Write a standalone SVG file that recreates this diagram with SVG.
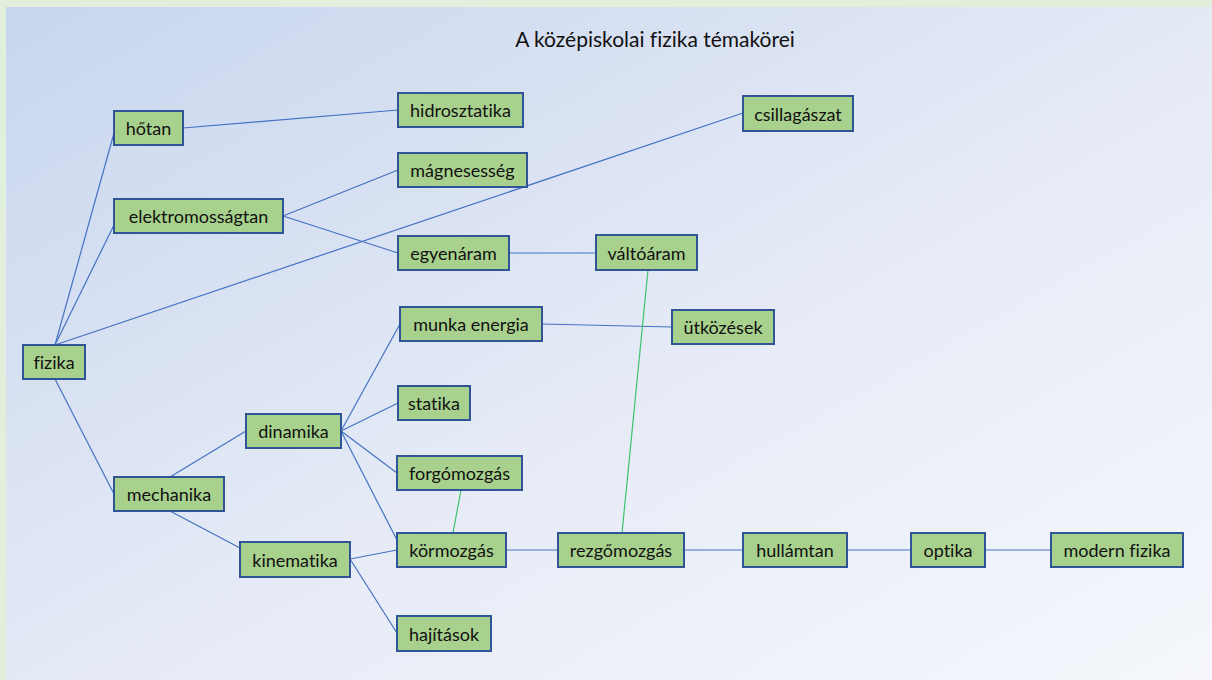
<svg xmlns="http://www.w3.org/2000/svg" width="1212" height="680" viewBox="0 0 1212 680">
<defs>
<linearGradient id="bg" x1="0" y1="0" x2="1" y2="1">
<stop offset="0" stop-color="#c8d6ee"/>
<stop offset="0.55" stop-color="#e6ebf6"/>
<stop offset="1" stop-color="#f5f7fc"/>
</linearGradient>
<style>
.n rect{fill:#a9d18e;stroke:#2f5597;stroke-width:2}
.n text{font-family:Lato,"Liberation Sans",sans-serif;font-size:18px;fill:#111;text-anchor:middle;dominant-baseline:central;font-variant-ligatures:none}
.c line{stroke:#4472c4;stroke-width:1.2}
.c line.g{stroke:#3cc36e}
.t{font-family:Lato,"Liberation Sans",sans-serif;font-size:21px;fill:#111;text-anchor:middle;font-variant-ligatures:none}
</style>
</defs>
<rect x="0" y="0" width="1212" height="680" fill="#e2efda"/>
<rect x="6" y="7" width="1206" height="673" fill="url(#bg)"/>
<text class="t" x="655" y="47">A középiskolai fizika témakörei</text>
<g class="c" id="connectors">
<line x1="55" y1="345" x2="114" y2="133"/>
<line x1="55" y1="345" x2="114" y2="225"/>
<line x1="55" y1="345" x2="743" y2="113"/>
<line x1="55" y1="379" x2="114" y2="494"/>
<line x1="183" y1="128" x2="398" y2="110"/>
<line x1="283" y1="216" x2="398" y2="170"/>
<line x1="283" y1="216" x2="398" y2="253"/>
<line x1="509" y1="253" x2="596" y2="253"/>
<line x1="170" y1="477" x2="246" y2="431"/>
<line x1="170" y1="511" x2="240" y2="548"/>
<line x1="341" y1="431" x2="400" y2="324"/>
<line x1="341" y1="431" x2="398" y2="403"/>
<line x1="341" y1="431" x2="397" y2="473"/>
<line x1="341" y1="431" x2="397" y2="540"/>
<line x1="350" y1="559" x2="397" y2="550"/>
<line x1="350" y1="559" x2="397" y2="633"/>
<line x1="542" y1="324" x2="672" y2="327"/>
<line x1="506" y1="550" x2="558" y2="550"/>
<line x1="684" y1="550" x2="743" y2="550"/>
<line x1="847" y1="550" x2="911" y2="550"/>
<line x1="985" y1="550" x2="1051" y2="550"/>
<line class="g" x1="461" y1="490" x2="453" y2="533"/>
<line class="g" x1="648" y1="270" x2="622" y2="533"/>
</g>
<g class="n" id="hotan"><rect x="114" y="111" width="69" height="34"/><text x="148.5" y="128">hőtan</text></g>
<g class="n" id="hidrosztatika"><rect x="398" y="93" width="125" height="34"/><text x="460.5" y="110">hidrosztatika</text></g>
<g class="n" id="csillagaszat"><rect x="743" y="96" width="110" height="35"/><text x="798" y="113.5">csillagászat</text></g>
<g class="n" id="magnesesseg"><rect x="398" y="153" width="129" height="34"/><text x="462.5" y="170">mágnesesség</text></g>
<g class="n" id="elektromossagtan"><rect x="114" y="199" width="169" height="34"/><text x="198.5" y="216">elektromosságtan</text></g>
<g class="n" id="egyenaram"><rect x="398" y="236" width="111" height="34"/><text x="453.5" y="253">egyenáram</text></g>
<g class="n" id="valtoaram"><rect x="596" y="235" width="101" height="35"/><text x="646.5" y="252.5">váltóáram</text></g>
<g class="n" id="munkaenergia"><rect x="400" y="307" width="142" height="34"/><text x="471" y="324">munka energia</text></g>
<g class="n" id="utkozesek"><rect x="672" y="310" width="102" height="34"/><text x="723" y="327">ütközések</text></g>
<g class="n" id="fizika"><rect x="23" y="345" width="62" height="34"/><text x="54" y="362">fizika</text></g>
<g class="n" id="statika"><rect x="398" y="386" width="72" height="34"/><text x="434" y="403">statika</text></g>
<g class="n" id="dinamika"><rect x="246" y="414" width="95" height="34"/><text x="293.5" y="431">dinamika</text></g>
<g class="n" id="forgomozgas"><rect x="397" y="456" width="125" height="34"/><text x="459.5" y="473">forgómozgás</text></g>
<g class="n" id="mechanika"><rect x="114" y="477" width="110" height="34"/><text x="169" y="494">mechanika</text></g>
<g class="n" id="kormozgas"><rect x="397" y="533" width="109" height="34"/><text x="451.5" y="550">körmozgás</text></g>
<g class="n" id="rezgomozgas"><rect x="558" y="533" width="126" height="34"/><text x="621" y="550">rezgőmozgás</text></g>
<g class="n" id="hullamtan"><rect x="743" y="533" width="104" height="34"/><text x="795" y="550">hullámtan</text></g>
<g class="n" id="optika"><rect x="911" y="533" width="74" height="34"/><text x="948" y="550">optika</text></g>
<g class="n" id="modernfizika"><rect x="1051" y="533" width="132" height="34"/><text x="1117" y="550">modern fizika</text></g>
<g class="n" id="kinematika"><rect x="240" y="542" width="110" height="35"/><text x="295" y="559.5">kinematika</text></g>
<g class="n" id="hajitasok"><rect x="397" y="616" width="94" height="35"/><text x="444" y="633.5">hajítások</text></g>
</svg>
